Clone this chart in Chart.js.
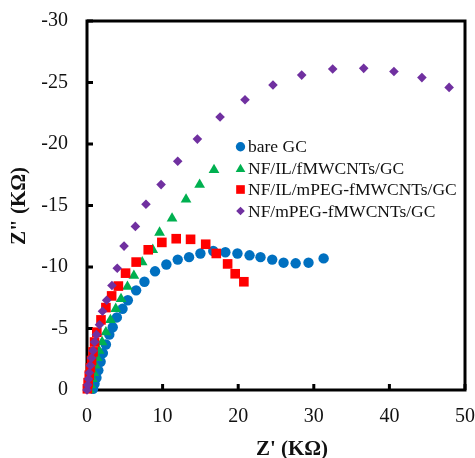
<!DOCTYPE html>
<html>
<head>
<meta charset="utf-8">
<script src="https://cdn.jsdelivr.net/npm/chart.js@4/dist/chart.umd.min.js"></script>
<style>
  html, body { margin: 0; padding: 0; background: #fff; }
  canvas { display: block; }
</style>
</head>
<body>
<canvas id="c" width="475" height="458"></canvas>
<script>
// ---- data (Z' in kΩ, Z'' in kΩ) ----
const seriesNames = ["bare GC", "NF/IL/fMWCNTs/GC", "NF/IL/mPEG-fMWCNTs/GC", "NF/mPEG-fMWCNTs/GC"];

const bareX = [0.8, 1.0, 1.25, 1.5, 1.8, 2.1, 2.5, 2.95, 3.4, 3.95, 4.7, 5.4, 6.5, 7.6, 9.0, 10.5, 12.0, 13.5, 15.0, 16.7, 18.3, 19.9, 21.5, 22.95, 24.5, 26.0, 27.6, 29.3, 31.3];
const bareY = [-0.1, -0.5, -1.0, -1.6, -2.3, -3.0, -3.7, -4.5, -5.1, -5.9, -6.6, -7.3, -8.1, -8.8, -9.65, -10.2, -10.6, -10.8, -11.1, -11.3, -11.2, -11.1, -10.95, -10.8, -10.6, -10.35, -10.3, -10.35, -10.7];

const ilX = [0.3, 0.5, 0.7, 0.9, 1.1, 1.35, 1.6, 2.0, 2.5, 3.1, 3.8, 4.5, 5.35, 6.2, 7.3, 8.7, 9.6, 11.25, 13.1, 14.9, 16.8];
const ilY = [0, -0.4, -0.9, -1.4, -2.0, -2.6, -3.2, -3.9, -4.7, -5.7, -6.6, -7.4, -8.4, -9.3, -10.4, -11.4, -12.8, -13.95, -15.5, -16.7, -17.9];

const ilPegX = [0.05, 0.15, 0.3, 0.45, 0.6, 0.8, 1.0, 1.3, 1.85, 2.5, 3.26, 4.15, 5.1, 6.5, 8.1, 9.9, 11.8, 13.7, 15.7, 17.1, 18.6, 19.6, 20.75];
const ilPegY = [-0.1, -0.6, -1.2, -1.8, -2.4, -3.1, -3.9, -4.7, -5.7, -6.7, -7.65, -8.45, -9.5, -10.4, -11.4, -12.0, -12.3, -12.25, -11.85, -11.1, -10.25, -9.45, -8.8];

const pegX = [0.0, 0.1, 0.2, 0.3, 0.45, 0.6, 0.8, 1.0, 1.25, 1.65, 2.05, 2.6, 3.3, 4.0, 4.9, 6.4, 7.8, 9.8, 12.0, 14.6, 17.6, 20.9, 24.6, 28.4, 32.5, 36.6, 40.6, 44.3, 47.9];
const pegY = [0, -0.4, -0.9, -1.4, -2.0, -2.6, -3.2, -3.9, -4.5, -5.3, -6.4, -7.3, -8.5, -9.9, -11.7, -13.3, -15.1, -16.7, -18.6, -20.4, -22.2, -23.6, -24.8, -25.6, -26.1, -26.15, -25.9, -25.4, -24.6];

const xTicks = [0, 10, 20, 30, 40, 50];
const yTicks = [-30, -25, -20, -15, -10, -5, 0];
const xTitle = "Z' (KΩ)";
const yTitle = 'Z" (KΩ)';

// ---- styling ----
const styles = [
  { color: '#0070C0', shape: 'circle',   r: 5.2, order: 4 },
  { color: '#00B050', shape: 'triangle', r: 6.2, order: 3 },
  { color: '#FF0000', shape: 'rect',     r: 6.8, order: 2 },
  { color: '#7030A0', shape: 'rectRot',  r: 4.8, order: 1 }
];
const xs = [bareX, ilX, ilPegX, pegX];
const ys = [bareY, ilY, ilPegY, pegY];

const datasets = seriesNames.map((name, i) => ({
  label: name,
  data: xs[i].map((x, k) => ({ x: x, y: ys[i][k] })),
  showLine: false,
  pointStyle: styles[i].shape,
  pointRadius: styles[i].r,
  pointHoverRadius: styles[i].r,
  pointBackgroundColor: styles[i].color,
  pointBorderColor: styles[i].color,
  pointBorderWidth: 0,
  order: styles[i].order,
  clip: false
}));

const SERIF = '"Liberation Serif", "Times New Roman", serif';

function drawShape(ctx, shape, r, x, y, color) {
  ctx.save();
  ctx.fillStyle = color;
  ctx.strokeStyle = color;
  ctx.lineWidth = 0;
  if (Chart.helpers && Chart.helpers.drawPoint) {
    Chart.helpers.drawPoint(ctx, { pointStyle: shape, radius: r, rotation: 0, borderWidth: 0 }, x, y);
  } else {
    ctx.beginPath();
    ctx.arc(x, y, r, 0, Math.PI * 2);
    ctx.fill();
  }
  ctx.restore();
}

const framePlugin = {
  id: 'frame',
  beforeDatasetsDraw(chart) {
    const { ctx, chartArea: a, scales } = chart;
    ctx.save();
    ctx.strokeStyle = '#000';
    ctx.lineWidth = 3;
    ctx.strokeRect(a.left, a.top, a.right - a.left, a.bottom - a.top);
    ctx.beginPath();
    xTicks.forEach(v => {
      const px = scales.x.getPixelForValue(v);
      ctx.moveTo(px, a.bottom);
      ctx.lineTo(px, a.bottom - 6);
    });
    yTicks.forEach(v => {
      const py = scales.y.getPixelForValue(v);
      ctx.moveTo(a.left, py);
      ctx.lineTo(a.left + 6, py);
    });
    ctx.stroke();
    ctx.restore();
  },
  afterDatasetsDraw(chart) {
    const { ctx } = chart;
    ctx.save();
    // legend
    const rows = [146.7, 168.3, 189.5, 211];
    ctx.font = '17.5px ' + SERIF;
    ctx.textBaseline = 'middle';
    ctx.textAlign = 'left';
    chart.data.datasets.forEach((ds, i) => {
      const st = styles[i];
      drawShape(ctx, st.shape, st.r * 0.9, 240.5, rows[i] + (st.shape === 'triangle' ? 1 : 0), st.color);
      ctx.fillStyle = '#111';
      ctx.fillText(ds.label, 248, rows[i] + 1);
    });
    // axis titles
    ctx.fillStyle = '#111';
    ctx.font = 'bold 21px ' + SERIF;
    ctx.textAlign = 'center';
    ctx.textBaseline = 'alphabetic';
    ctx.fillText(xTitle, 292, 455);
    ctx.translate(25, 206);
    ctx.rotate(-Math.PI / 2);
    ctx.fillText(yTitle, 0, 0);
    ctx.restore();
  }
};

new Chart(document.getElementById('c'), {
  type: 'scatter',
  data: { datasets },
  options: {
    responsive: false,
    animation: false,
    devicePixelRatio: 1,
    layout: { autoPadding: false, padding: { left: 0, top: 21, right: 10, bottom: 0 } },
    plugins: { legend: { display: false }, tooltip: { enabled: false } },
    scales: {
      x: {
        type: 'linear',
        min: 0, max: 50,
        afterBuildTicks: s => { s.ticks = xTicks.map(v => ({ value: v })); },
        afterFit: s => { s.height = 68; },
        grid: { display: false, drawTicks: true, tickLength: 15 },
        border: { display: false },
        ticks: {
          padding: 0,
          color: '#111',
          font: { family: SERIF, size: 20 },
          maxRotation: 0,
          callback: v => String(v)
        }
      },
      y: {
        type: 'linear',
        min: -30, max: 0,
        reverse: true,
        afterBuildTicks: s => { s.ticks = yTicks.map(v => ({ value: v })); },
        afterFit: s => { s.width = 87; },
        grid: { display: false, drawTicks: true, tickLength: 19 },
        border: { display: false },
        ticks: {
          padding: 0,
          color: '#111',
          font: { family: SERIF, size: 20 },
          callback: v => String(v)
        }
      }
    }
  },
  plugins: [framePlugin]
});
</script>
</body>
</html>
